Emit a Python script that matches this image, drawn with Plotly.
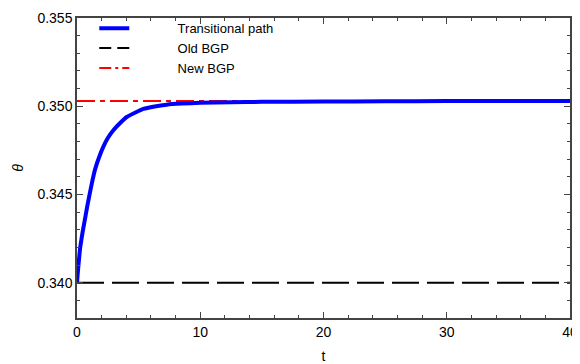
import plotly.graph_objects as go

# Data
t_path = [0, 0.1, 0.25, 0.45, 0.65, 0.85, 1.05, 1.25, 1.46, 1.8, 2.14, 2.5, 2.95, 3.5, 4.03,
          4.7, 5.38, 6.3, 7.27, 8.5, 10, 12.5, 15, 20, 25, 30, 35, 40]
theta_path = [0.3400, 0.34085, 0.34195, 0.34285, 0.34362, 0.34440, 0.34511, 0.34578,
              0.34641, 0.34712, 0.34771, 0.34820, 0.34864, 0.34905, 0.34939, 0.34963,
              0.34985, 0.34999, 0.35009, 0.35015, 0.35020, 0.35023, 0.35025, 0.35027,
              0.35028, 0.35029, 0.35030, 0.35030]
t_range = [0, 40]
old_bgp = [0.3400, 0.3400]
new_bgp = [0.3503, 0.3503]

y_ticks = [0.340, 0.345, 0.350, 0.355]
x_ticks = [0, 10, 20, 30, 40]

FONT = "Liberation Sans, Arial"
PAD = "\u00a0" * 12
red_line = dict(color="#FF0000", width=2)
black_line = dict(color="black", width=2)

fig = go.Figure()
# plotted lines (no legend)
fig.add_trace(go.Scatter(x=t_range, y=new_bgp, mode="lines", showlegend=False,
                         line=dict(red_line, dash="18px,5px,5px,5px")))
fig.add_trace(go.Scatter(x=t_range, y=old_bgp, mode="lines", showlegend=False,
                         line=dict(black_line, dash="27px,8px")))
fig.add_trace(go.Scatter(x=t_path, y=theta_path, mode="lines", name=PAD + "Transitional path",
                         line=dict(color="#0000FF", width=4, shape="spline", smoothing=0.3)))
# legend entries with dash patterns scaled to the legend sample length
fig.add_trace(go.Scatter(x=[None], y=[None], mode="lines", name=PAD + "Old BGP",
                         line=dict(black_line, dash="12px,6px")))
fig.add_trace(go.Scatter(x=[None], y=[None], mode="lines", name=PAD + "New BGP",
                         line=dict(red_line, dash="12px,4px,3px,4px")))

axis_common = dict(
    showline=True, linecolor="#444", linewidth=1.5, mirror="ticks",
    ticks="inside", ticklen=6, tickwidth=1, tickcolor="#444",
    showgrid=False, zeroline=False, automargin=False,
    tickfont=dict(family=FONT, size=14, color="black"),
)

fig.update_xaxes(range=[0, 40], tickvals=x_ticks, **axis_common,
                 minor=dict(ticks="inside", ticklen=3, dtick=2, tickcolor="#444"),
                 title=dict(text="t", font=dict(family=FONT, size=14, color="black"),
                            standoff=14))
fig.update_yaxes(range=[0.338, 0.355], tickvals=y_ticks, tickformat=".3f", **axis_common,
                 minor=dict(ticks="inside", ticklen=3, dtick=0.001, tickcolor="#444"),
                 title=dict(text="<i>θ</i>", font=dict(family=FONT, size=14, color="black"),
                            standoff=11))

# page body has an 8px margin, so the figure is sized to fit the 580x364 window
fig.update_layout(
    width=572, height=356,
    margin=dict(l=69, r=10, t=5, b=46),
    plot_bgcolor="white", paper_bgcolor="white",
    legend=dict(x=0.035, y=1.016, xanchor="left", yanchor="top",
                bgcolor="rgba(0,0,0,0)", tracegroupgap=0,
                font=dict(family=FONT, size=13, color="black")),
)

fig.write_html("out.html")
